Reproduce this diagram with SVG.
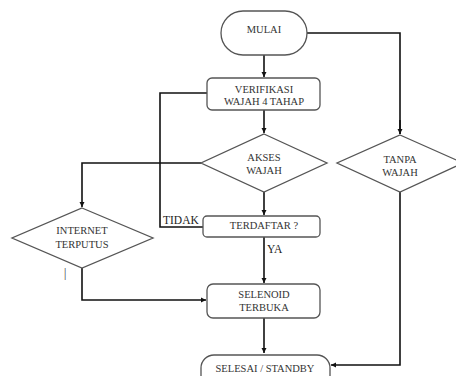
<svg xmlns="http://www.w3.org/2000/svg" width="456" height="376" viewBox="0 0 456 376">
<defs>
<marker id="ah" markerWidth="6" markerHeight="6" refX="5" refY="3" orient="auto" markerUnits="userSpaceOnUse">
<path d="M0,0.5 L5,3 L0,5.5 Z" fill="#111"/>
</marker>
<style>
.shape{fill:#fff;stroke:#555;stroke-width:1.3}
.t{font-size:10.5px;fill:#333;text-anchor:middle}
.lbl{font-size:11.5px;fill:#222}
.c{fill:none;stroke:#111;stroke-width:1.6}
.ca{fill:none;stroke:#111;stroke-width:1.6;marker-end:url(#ah)}
</style>
</defs>
<rect width="456" height="376" fill="#fff"/>
<g id="connectors">
<path class="ca" d="M264,55 V77"/>
<path class="c" d="M307,33 H400 V134"/>
<path class="ca" d="M400,120 V134"/>
<path class="ca" d="M264,110 V133"/>
<path class="c" d="M207,93 H160 V227 H203"/>
<path class="ca" d="M201,163 H82 V207"/>
<path class="ca" d="M264,192 V215"/>
<path class="ca" d="M264,237 V283"/>
<path class="ca" d="M82,268 V300 H206"/>
<path class="ca" d="M264,318 V353"/>
<path class="ca" d="M400,192 V365 H331"/>
</g>
<g font-family="Liberation Serif, Times New Roman, DejaVu Serif, serif">
<g id="mulai"><rect class="shape" x="221" y="11" width="86" height="44" rx="22"/><text class="t" x="264" y="33">MULAI</text></g>
<g id="verifikasi"><rect class="shape" x="207" y="78" width="113" height="32" rx="5"/><text class="t" x="264" y="93">VERIFIKASI</text><text class="t" x="264" y="105">WAJAH 4 TAHAP</text></g>
<g id="akses"><polygon class="shape" points="264,134 327,163 264,192 201,163"/><text class="t" x="264" y="161">AKSES</text><text class="t" x="264" y="174">WAJAH</text></g>
<g id="tanpa"><polygon class="shape" points="400,135 463,163 400,192 337,163"/><text class="t" x="400" y="163">TANPA</text><text class="t" x="400" y="176">WAJAH</text></g>
<g id="internet"><polygon class="shape" points="82,208 153,238 82,268 12,238"/><text class="t" x="82" y="234">INTERNET</text><text class="t" x="82" y="248">TERPUTUS</text></g>
<g id="terdaftar"><rect class="shape" x="203" y="216" width="117" height="21" rx="4"/><text class="t" x="264" y="229">TERDAFTAR ?</text></g>
<g id="selenoid"><rect class="shape" x="207" y="284" width="113" height="34" rx="6"/><text class="t" x="264" y="298">SELENOID</text><text class="t" x="264" y="311">TERBUKA</text></g>
<g id="selesai"><rect class="shape" x="201" y="355" width="129" height="34" rx="13"/><text class="t" x="265" y="372">SELESAI / STANDBY</text></g>
<text class="lbl" x="163" y="224">TIDAK</text>
<text class="lbl" x="267" y="253">YA</text>
<text class="lbl" x="64" y="277" fill="#444">|</text>
</g>
</svg>
